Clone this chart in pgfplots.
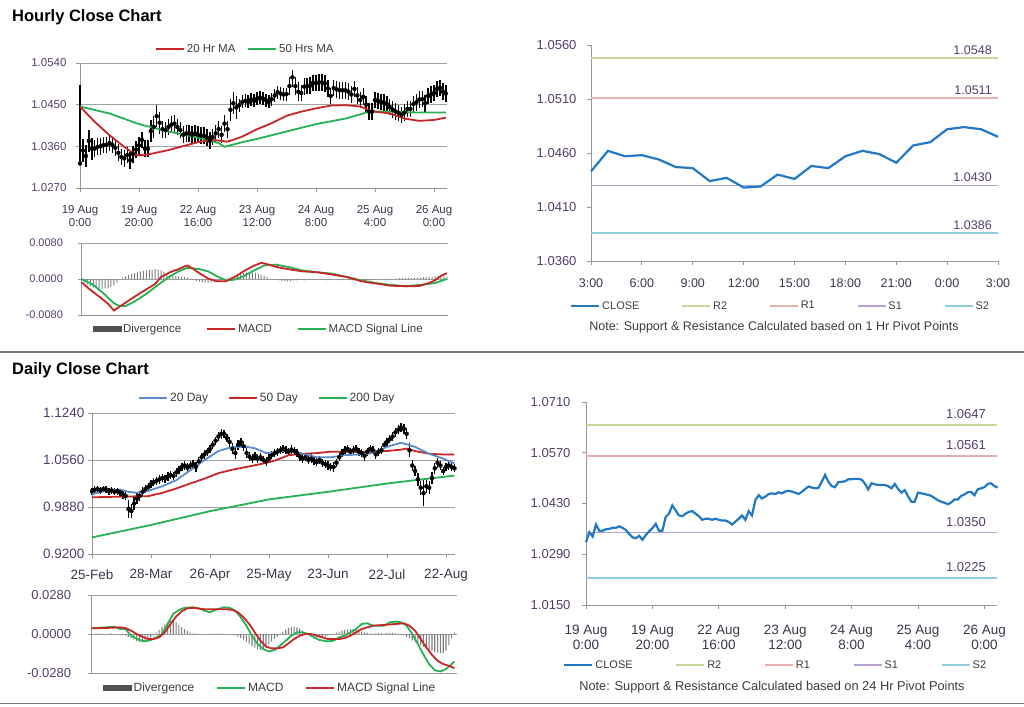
\documentclass[border=0pt]{standalone}
\usepackage{fontspec}
\setmainfont{Liberation Sans}
\usepackage{pgfplots}
\usepackage{pgfplotstable}
\pgfplotsset{compat=1.18}
\definecolor{maRed}{RGB}{200,38,38}
\definecolor{maGreen}{RGB}{38,178,82}
\definecolor{maBlue}{RGB}{90,140,205}
\definecolor{closeBlue}{RGB}{35,120,195}
\definecolor{lvRtwo}{RGB}{195,215,150}
\definecolor{lvRone}{RGB}{232,175,175}
\definecolor{lvSone}{RGB}{180,160,210}
\definecolor{lvStwo}{RGB}{140,205,225}
\definecolor{axc}{RGB}{150,150,150}
\definecolor{gridc}{RGB}{160,160,160}
\definecolor{ytc}{RGB}{85,60,110}
\definecolor{xtc}{RGB}{55,55,75}
\definecolor{legc}{RGB}{60,60,60}
\definecolor{divc}{RGB}{125,125,125}
\definecolor{divd}{RGB}{80,80,80}
\definecolor{sepc}{RGB}{120,120,120}
\newcommand{\fs}[2]{\fontsize{#1}{#2}\selectfont}

\pgfplotsset{
  base/.style={scale only axis, axis lines=left, axis line style={-, draw=axc, line width=0.9pt},
    tick style={draw=axc, line width=0.9pt}, tick align=outside, major tick length=4pt,
    clip=false, legend cell align=left, scaled y ticks=false, scaled x ticks=false,
    yticklabel style={text=ytc}, xticklabel style={text=xtc}},
  gridy/.style={ymajorgrids, grid style={draw=gridc, line width=0.9pt}},
  legline/.style={legend image code/.code={\draw[##1] (0pt,0pt) -- (28pt,0pt);}},
  legbar/.style={legend image code/.code={\fill[##1] (0pt,-2.6pt) rectangle (28pt,2.6pt);}},
  legbase/.style={legend style={draw=none, fill=none, inner sep=0pt, legend columns=-1, anchor=west, text=legc,
    /tikz/every odd column/.append style={column sep=0pt},
    /tikz/every even column/.append style={column sep=#1}}},
}

% hourly close (h), bar range above (ep) and below (em) the close
\pgfplotstableread{
h c ep em
0 1.0323 0.0169 0.0003
1 1.0351 0.0024 0.0024
2 1.0339 0.0024 0.0024
3 1.0372 0.0024 0.0024
4 1.0355 0.0024 0.0024
5 1.0355 0.0018 0.0018
6 1.0359 0.0018 0.0018
7 1.0360 0.0018 0.0018
8 1.0363 0.0018 0.0018
9 1.0363 0.0018 0.0018
10 1.0367 0.0018 0.0018
11 1.0363 0.0018 0.0018
12 1.0357 0.0018 0.0018
13 1.0346 0.0018 0.0018
14 1.0337 0.0018 0.0018
15 1.0334 0.0018 0.0018
16 1.0341 0.0018 0.0018
17 1.0330 0.0018 0.0018
18 1.0343 0.0018 0.0018
19 1.0353 0.0018 0.0018
20 1.0362 0.0018 0.0018
21 1.0374 0.0018 0.0018
22 1.0355 0.0018 0.0018
23 1.0355 0.0018 0.0018
24 1.0393 0.0024 0.0024
25 1.0402 0.0024 0.0024
26 1.0425 0.0024 0.0024
27 1.0411 0.0024 0.0024
28 1.0397 0.0018 0.0018
29 1.0395 0.0018 0.0018
30 1.0402 0.0018 0.0018
31 1.0407 0.0018 0.0018
32 1.0409 0.0018 0.0018
33 1.0402 0.0018 0.0018
34 1.0395 0.0018 0.0018
35 1.0385 0.0018 0.0018
36 1.0388 0.0018 0.0018
37 1.0388 0.0018 0.0018
38 1.0385 0.0018 0.0018
39 1.0388 0.0018 0.0018
40 1.0385 0.0018 0.0018
41 1.0383 0.0018 0.0018
42 1.0383 0.0018 0.0018
43 1.0379 0.0018 0.0018
44 1.0372 0.0018 0.0018
45 1.0380 0.0018 0.0018
46 1.0388 0.0018 0.0018
47 1.0397 0.0018 0.0018
48 1.0385 0.0018 0.0018
49 1.0409 0.0018 0.0018
50 1.0397 0.0018 0.0018
51 1.0439 0.0024 0.0024
52 1.0453 0.0024 0.0024
53 1.0444 0.0024 0.0024
54 1.0449 0.0014 0.0014
55 1.0456 0.0014 0.0014
56 1.0458 0.0014 0.0014
57 1.0456 0.0014 0.0014
58 1.0461 0.0014 0.0014
59 1.0458 0.0014 0.0014
60 1.0463 0.0014 0.0014
61 1.0465 0.0014 0.0014
62 1.0463 0.0014 0.0014
63 1.0460 0.0014 0.0014
64 1.0456 0.0014 0.0014
65 1.0462 0.0014 0.0014
66 1.0470 0.0014 0.0014
67 1.0477 0.0014 0.0014
68 1.0474 0.0014 0.0014
69 1.0472 0.0014 0.0014
70 1.0473 0.0014 0.0014
71 1.0490 0.0020 0.0020
72 1.0509 0.0016 0.0020
73 1.0490 0.0020 0.0020
74 1.0478 0.0020 0.0020
75 1.0475 0.0018 0.0018
76 1.0489 0.0018 0.0018
77 1.0490 0.0018 0.0018
78 1.0491 0.0018 0.0018
79 1.0497 0.0018 0.0018
80 1.0497 0.0018 0.0018
81 1.0498 0.0018 0.0018
82 1.0498 0.0018 0.0018
83 1.0496 0.0018 0.0018
84 1.0485 0.0018 0.0018
85 1.0469 0.0018 0.0018
86 1.0486 0.0018 0.0018
87 1.0483 0.0018 0.0018
88 1.0481 0.0018 0.0018
89 1.0481 0.0018 0.0018
90 1.0481 0.0018 0.0018
91 1.0478 0.0018 0.0018
92 1.0472 0.0018 0.0018
93 1.0484 0.0018 0.0018
94 1.0470 0.0018 0.0018
95 1.0460 0.0018 0.0018
96 1.0467 0.0018 0.0018
97 1.0450 0.0018 0.0018
98 1.0435 0.0018 0.0018
99 1.0435 0.0018 0.0018
100 1.0460 0.0018 0.0018
101 1.0458 0.0018 0.0018
102 1.0456 0.0018 0.0018
103 1.0454 0.0018 0.0018
104 1.0451 0.0018 0.0018
105 1.0445 0.0018 0.0018
106 1.0439 0.0018 0.0018
107 1.0435 0.0018 0.0018
108 1.0432 0.0018 0.0018
109 1.0428 0.0018 0.0018
110 1.0433 0.0018 0.0018
111 1.0441 0.0018 0.0018
112 1.0441 0.0018 0.0018
113 1.0451 0.0018 0.0018
114 1.0455 0.0018 0.0018
115 1.0461 0.0018 0.0018
116 1.0462 0.0018 0.0018
117 1.0453 0.0018 0.0018
118 1.0469 0.0018 0.0018
119 1.0472 0.0018 0.0018
120 1.0475 0.0018 0.0018
121 1.0484 0.0018 0.0018
122 1.0486 0.0018 0.0018
123 1.0478 0.0018 0.0018
124 1.0474 0.0018 0.0018
}\hourly

\pgfplotstableread{
h v
0 0
1 -0.0008
2 -0.0012
3 -0.0016
4 -0.0019
5 -0.0021
6 -0.0022
7 -0.0022
8 -0.0021
9 -0.0020
10 -0.0018
11 -0.0014
12 -0.0008
13 -0.0002
14 0.0003
15 0.0006
16 0.0009
17 0.0011
18 0.0013
19 0.0015
20 0.0017
21 0.0018
22 0.0019
23 0.0020
24 0.0021
25 0.0022
26 0.0021
27 0.0019
28 0.0016
29 0.0012
30 0.0009
31 0.0007
32 0.0006
33 0.0006
34 0.0005
35 0.0004
36 0.0003
37 0.0001
38 -0.0002
39 -0.0004
40 -0.0006
41 -0.0007
42 -0.0008
43 -0.0008
44 -0.0008
45 -0.0007
46 -0.0006
47 -0.0004
48 -0.0002
49 0.0001
50 0.0003
51 0.0005
52 0.0007
53 0.0009
54 0.0011
55 0.0013
56 0.0014
57 0.0015
58 0.0015
59 0.0014
60 0.0012
61 0.0010
62 0.0007
63 0.0004
64 0.0001
65 -0.0001
66 -0.0002
67 -0.0003
68 -0.0004
69 -0.0005
70 -0.0005
71 -0.0004
72 -0.0003
73 -0.0003
74 -0.0002
75 -0.0002
76 -0.0003
77 -0.0002
78 -0.0001
79 -0.0002
80 -0.0001
81 -0.0001
82 -0.0002
83 -0.0003
84 -0.0002
85 -0.0002
86 -0.0001
87 -0.0002
88 -0.0003
89 -0.0002
90 -0.0002
91 -0.0003
92 -0.0003
93 -0.0002
94 -0.0003
95 -0.0003
96 -0.0002
97 -0.0002
98 -0.0003
99 -0.0002
100 -0.0001
101 -0.0001
102 0.0001
103 -0.0001
104 0.0001
105 0.0001
106 -0.0001
107 0.0001
108 0.0002
109 0.0002
110 0.0002
111 0.0003
112 0.0002
113 0.0003
114 0.0003
115 0.0003
116 0.0004
117 0.0004
118 0.0005
119 0.0005
120 0.0006
121 0.0007
122 0.0007
123 0.0006
124 0.0005
}\hdiv

\pgfplotstableread{
d c e
0 1.011 0.005
1 1.013 0.005
2 1.014 0.005
3 1.012 0.005
4 1.014 0.005
5 1.013 0.005
6 1.011 0.005
7 1.012 0.005
8 1.010 0.005
9 1.011 0.005
10 1.009 0.005
11 1.006 0.006
12 1.004 0.006
13 0.985 0.013
14 0.982 0.010
15 0.993 0.009
16 1.000 0.008
17 1.004 0.007
18 1.010 0.007
19 1.014 0.006
20 1.017 0.006
21 1.021 0.006
22 1.024 0.006
23 1.026 0.006
24 1.028 0.006
25 1.030 0.006
26 1.029 0.006
27 1.032 0.006
28 1.034 0.006
29 1.033 0.006
30 1.038 0.006
31 1.042 0.006
32 1.046 0.006
33 1.048 0.006
34 1.045 0.006
35 1.048 0.006
36 1.050 0.006
37 1.046 0.007
38 1.054 0.006
39 1.060 0.006
40 1.064 0.006
41 1.068 0.006
42 1.072 0.006
43 1.078 0.006
44 1.084 0.006
45 1.090 0.007
46 1.094 0.007
47 1.094 0.006
48 1.088 0.006
49 1.082 0.007
50 1.072 0.008
51 1.066 0.008
52 1.078 0.007
53 1.082 0.006
54 1.076 0.007
55 1.066 0.007
56 1.061 0.006
57 1.058 0.006
58 1.062 0.006
59 1.058 0.006
60 1.060 0.006
61 1.056 0.006
62 1.054 0.006
63 1.058 0.006
64 1.063 0.006
65 1.066 0.006
66 1.068 0.006
67 1.070 0.006
68 1.072 0.006
69 1.070 0.006
70 1.068 0.006
71 1.071 0.006
72 1.069 0.006
73 1.066 0.006
74 1.061 0.006
75 1.058 0.006
76 1.060 0.006
77 1.056 0.006
78 1.058 0.006
79 1.055 0.006
80 1.053 0.006
81 1.056 0.006
82 1.052 0.006
83 1.050 0.006
84 1.048 0.006
85 1.046 0.006
86 1.046 0.007
87 1.052 0.006
88 1.060 0.006
89 1.066 0.006
90 1.070 0.006
91 1.072 0.006
92 1.068 0.006
93 1.070 0.006
94 1.072 0.006
95 1.068 0.006
96 1.066 0.006
97 1.062 0.007
98 1.068 0.006
99 1.072 0.006
100 1.070 0.006
101 1.064 0.007
102 1.068 0.006
103 1.070 0.006
104 1.078 0.006
105 1.082 0.006
106 1.086 0.006
107 1.090 0.006
108 1.096 0.007
109 1.100 0.007
110 1.103 0.007
111 1.101 0.007
112 1.094 0.008
113 1.070 0.010
114 1.048 0.008
115 1.040 0.007
116 1.028 0.009
117 1.016 0.010
118 1.008 0.019
119 1.018 0.010
120 1.016 0.009
121 1.030 0.008
122 1.044 0.008
123 1.052 0.007
124 1.048 0.007
125 1.040 0.006
126 1.046 0.006
127 1.048 0.006
128 1.046 0.006
129 1.044 0.006
}\daily

\pgfplotstableread{
d v
0 0.0003
1 0.0002
2 0.0004
3 0.0003
4 0.0002
5 -0.0002
6 0.0003
7 0.0004
8 -0.0003
9 -0.0005
10 -0.0008
11 -0.0010
12 -0.0012
13 -0.0020
14 -0.0030
15 -0.0040
16 -0.0050
17 -0.0055
18 -0.0058
19 -0.0052
20 -0.0040
21 -0.0025
22 -0.0010
23 0.0010
24 0.0030
25 0.0050
26 0.0070
27 0.0085
28 0.0095
29 0.0096
30 0.0085
31 0.0068
32 0.0050
33 0.0035
34 0.0022
35 0.0012
36 0.0005
37 0.0003
38 0.0002
39 -0.0002
40 -0.0004
41 -0.0003
42 0.0002
43 0.0003
44 -0.0002
45 0.0003
46 0.0004
47 0.0003
48 -0.0002
49 -0.0004
50 -0.0006
51 -0.0010
52 -0.0018
53 -0.0028
54 -0.0040
55 -0.0055
56 -0.0070
57 -0.0085
58 -0.0098
59 -0.0108
60 -0.0115
61 -0.0110
62 -0.0095
63 -0.0075
64 -0.0055
65 -0.0035
66 -0.0018
67 0.0005
68 0.0018
69 0.0030
70 0.0042
71 0.0050
72 0.0053
73 0.0048
74 0.0038
75 0.0025
76 0.0010
77 -0.0005
78 -0.0012
79 -0.0018
80 -0.0022
81 -0.0024
82 -0.0022
83 -0.0018
84 -0.0012
85 -0.0006
86 0.0003
87 0.0010
88 0.0018
89 0.0025
90 0.0030
91 0.0034
92 0.0036
93 0.0034
94 0.0030
95 0.0024
96 0.0018
97 0.0012
98 0.0008
99 0.0004
100 0.0003
101 0.0005
102 0.0006
103 0.0004
104 0.0003
105 0.0006
106 0.0008
107 0.0006
108 0.0004
109 0.0002
110 -0.0004
111 -0.0010
112 -0.0020
113 -0.0032
114 -0.0045
115 -0.0058
116 -0.0070
117 -0.0082
118 -0.0093
119 -0.0103
120 -0.0112
121 -0.0120
122 -0.0128
123 -0.0134
124 -0.0138
125 -0.0136
126 -0.0120
127 -0.0080
128 -0.0030
129 0.0010
}\ddiv

\begin{document}
\begin{tikzpicture}
\path[use as bounding box] (0pt,0pt) rectangle (1024pt,-706pt);
\node[anchor=base west, font=\fs{16.5}{18}\bfseries, inner sep=0pt] at (12pt,-21.5pt) {Hourly Close Chart};
\node[anchor=base west, font=\fs{16.5}{18}\bfseries, inner sep=0pt] at (12pt,-374pt) {Daily Close Chart};
\draw[sepc, line width=1.3pt] (0pt,-352pt) -- (1024pt,-352pt);
\draw[sepc, line width=1.3pt] (0pt,-703.5pt) -- (1024pt,-703.5pt);
\node[font=\fs{12.5}{14}, text=legc] at (774pt,-327pt) {Note: Support \& Resistance Calculated based on 1 Hr Pivot Points};
\node[font=\fs{12.8}{14}, text=legc] at (772pt,-687pt) {Note: Support \& Resistance Calculated based on 24 Hr Pivot Points};

% ---------- Panel 1: hourly price ----------
\begin{axis}[base, gridy, at={(80pt,-188pt)}, anchor=south west, width=367pt, height=125pt,
  xmin=0, xmax=124.4, ymin=1.027, ymax=1.054,
  ytick={1.027,1.036,1.045,1.054}, yticklabels={1.0270,1.0360,1.0450,1.0540},
  xtick={0,20,40,60,80,100,120},
  xticklabels={{19 Aug\\0:00},{19 Aug\\20:00},{22 Aug\\16:00},{23 Aug\\12:00},{24 Aug\\8:00},{25 Aug\\4:00},{26 Aug\\0:00}},
  xticklabel style={align=center, font=\fs{11.5}{13}, yshift=-10pt},
  yticklabel style={font=\fs{11.5}{13}, xshift=-6pt},
  legbase=10pt, legend style={at={(0.204,1.112)}, font=\fs{11.5}{13}}]
\addlegendimage{legline, maRed, line width=1.8pt}\addlegendentry{20 Hr MA}
\addlegendimage{legline, maGreen, line width=1.8pt}\addlegendentry{50 Hrs MA}
\addplot[only marks, mark=none, forget plot, error bars/.cd, y dir=both, y explicit, error mark=none,
  error bar style={black, line width=1.4pt}] table[x=h, y=c, y error plus=ep, y error minus=em] {\hourly};
\addplot[maGreen, line width=1.8pt, forget plot] table {
0 1.0446
10 1.0431
20 1.0408
30 1.0392
40 1.0379
47 1.0367
49 1.0359
52 1.0364
55 1.0369
60 1.0376
70 1.0392
80 1.0408
90 1.0420
95 1.0429
98 1.0435
105 1.0435
115 1.0433
124 1.0433
};
\addplot[maRed, line width=1.8pt, forget plot] table {
0 1.0446
5 1.0413
10 1.0384
15 1.0359
19 1.0341
22 1.0341
25 1.0345
30 1.0352
40 1.0369
45 1.0374
50 1.0370
55 1.0381
60 1.0397
65 1.0410
70 1.0426
75 1.0435
80 1.0442
85 1.0448
90 1.0449
95 1.0446
98 1.0438
100 1.0435
105 1.0431
110 1.0420
115 1.0415
120 1.0417
124 1.0422
};
\end{axis}

% ---------- Panel 1b: hourly MACD ----------
\begin{axis}[base, gridy, at={(81.5pt,-315pt)}, anchor=south west, width=366.5pt, height=72pt,
  xmin=0, xmax=124.4, ymin=-0.008, ymax=0.008,
  ytick={-0.008,0,0.008}, yticklabels={-0.0080,0.0000,0.0080}, xtick=\empty,
  yticklabel style={font=\fs{11}{13}, xshift=-11pt},
  legbase=23pt, legend style={at={(0.03,-0.194)}, font=\fs{11.5}{13}}]
\addlegendimage{legbar, divd}\addlegendentry{Divergence}
\addlegendimage{legline, maRed, line width=1.8pt}\addlegendentry{MACD}
\addlegendimage{legline, maGreen, line width=1.8pt}\addlegendentry{MACD Signal Line}
\addplot[ybar, bar width=1pt, fill=divc, draw=none, forget plot] table[x=h, y=v] {\hdiv};
\addplot[maGreen, line width=1.8pt, forget plot] table {
0 0
4 -0.0013
8 -0.0035
11 -0.0054
13 -0.0060
15 -0.0060
18 -0.0050
22 -0.0033
26 -0.0013
30 0.0006
33 0.0017
36 0.0025
40 0.0022
43 0.0017
46 0.0006
49 -0.0003
52 -0.00015
55 0.0006
58 0.0017
62 0.0030
66 0.0032
70 0.0027
75 0.0019
80 0.0015
85 0.0012
90 0.00045
95 -0.0003
100 -0.0009
105 -0.0013
110 -0.0016
115 -0.0013
120 -0.0009
124 0
};
\addplot[maRed, line width=1.8pt, forget plot] table {
0 -0.00074
3 -0.0024
6 -0.0039
9 -0.0055
11 -0.0070
13 -0.0061
16 -0.0048
20 -0.0031
25 -0.0011
27 0.00045
30 0.0015
33 0.0022
35 0.0028
36 0.0030
38 0.0022
40 0.0013
43 0.0001
46 -0.0005
49 -0.0005
52 0.00045
55 0.0017
58 0.0028
61 0.0036
63 0.0033
66 0.0027
70 0.0022
75 0.0017
80 0.0015
85 0.0010
90 0.00045
95 -0.0005
100 -0.0010
105 -0.0015
110 -0.0016
113 -0.0016
115 -0.0015
118 -0.0009
120 -0.0003
122 0.0007
124 0.0013
};
\end{axis}

% ---------- Panel 2: last 24 hours ----------
\begin{axis}[base, at={(591pt,-261pt)}, anchor=south west, width=407pt, height=216pt,
  xmin=0, xmax=24, ymin=1.036, ymax=1.056,
  ytick={1.036,1.041,1.046,1.051,1.056}, yticklabels={1.0360,1.0410,1.0460,1.0510,1.0560},
  xtick={0,3,6,9,12,15,18,21,24}, xticklabels={3:00,6:00,9:00,12:00,15:00,18:00,21:00,0:00,3:00},
  xticklabel style={font=\fs{12.5}{14}, yshift=-10pt}, yticklabel style={font=\fs{13}{14}, xshift=-7pt},
  legbase=40pt, legend style={at={(-0.052,-0.208)}, font=\fs{11}{13}}]
\addlegendimage{legline, closeBlue, line width=2.2pt}\addlegendentry{CLOSE}
\addlegendimage{legline, lvRtwo, line width=1.6pt}\addlegendentry{R2}
\addlegendimage{legline, lvRone, line width=1.6pt}\addlegendentry{R1}
\addlegendimage{legline, lvSone, line width=1.6pt}\addlegendentry{S1}
\addlegendimage{legline, lvStwo, line width=1.6pt}\addlegendentry{S2}
\addplot[lvRtwo, line width=1.6pt, forget plot] coordinates {(0,1.0548) (24,1.0548)};
\addplot[lvRone, line width=1.6pt, forget plot] coordinates {(0,1.0511) (24,1.0511)};
\addplot[lvSone, line width=1.6pt, forget plot] coordinates {(0,1.0430) (24,1.0430)};
\addplot[lvStwo, line width=1.6pt, forget plot] coordinates {(0,1.0386) (24,1.0386)};
\addplot[closeBlue, line width=2.2pt, forget plot] table {
0 1.0443
1 1.0462
2 1.0457
3 1.0458
4 1.0454
5 1.0447
6 1.0446
7 1.0434
8 1.0437
9 1.0428
10 1.0429
11 1.0440
12 1.0436
13 1.0448
14 1.0446
15 1.0457
16 1.0462
17 1.0459
18 1.0451
19 1.0467
20 1.0470
21 1.0482
22 1.0484
23 1.0482
24 1.0475
};
\node[anchor=south east, text=ytc, font=\fs{12.5}{14}, inner sep=1pt, yshift=2.5pt] at (axis cs:23.7,1.0548) {1.0548};
\node[anchor=south east, text=ytc, font=\fs{12.5}{14}, inner sep=1pt, yshift=2.5pt] at (axis cs:23.7,1.0511) {1.0511};
\node[anchor=south east, text=ytc, font=\fs{12.5}{14}, inner sep=1pt, yshift=2.5pt] at (axis cs:23.7,1.0430) {1.0430};
\node[anchor=south east, text=ytc, font=\fs{12.5}{14}, inner sep=1pt, yshift=2.5pt] at (axis cs:23.7,1.0386) {1.0386};
\end{axis}

% ---------- Panel 4: daily price ----------
\begin{axis}[base, gridy, at={(92pt,-554pt)}, anchor=south west, width=363pt, height=141pt,
  xmin=0, xmax=129.2, ymin=0.92, ymax=1.124,
  ytick={0.92,0.988,1.056,1.124}, yticklabels={0.9200,0.9880,1.0560,1.1240},
  xtick={0,21,42,63,84,105,126}, xticklabels={25-Feb,28-Mar,26-Apr,25-May,23-Jun,22-Jul,22-Aug},
  xticklabel style={font=\fs{13.5}{15}, yshift=-8pt}, yticklabel style={font=\fs{13.5}{15}},
  legbase=18pt, legend style={at={(0.127,1.106)}, font=\fs{12}{14}}]
\addlegendimage{legline, maBlue, line width=1.8pt}\addlegendentry{20 Day}
\addlegendimage{legline, maRed, line width=1.8pt}\addlegendentry{50 Day}
\addlegendimage{legline, maGreen, line width=1.8pt}\addlegendentry{200 Day}
\addplot[only marks, mark=none, forget plot, error bars/.cd, y dir=both, y explicit, error mark=none,
  error bar style={black, line width=1.3pt}] table[x=d, y=c, y error=e] {\daily};
\addplot[maGreen, line width=1.8pt, forget plot] table {
0 0.944
21 0.962
42 0.982
63 0.999
84 1.010
105 1.022
129 1.0335
};
\addplot[maRed, line width=1.8pt, forget plot] table {
0 1.002
10 1.003
20 1.0037
25 1.0085
30 1.0148
35 1.022
40 1.029
45 1.037
50 1.042
55 1.046
60 1.050
65 1.055
70 1.063
75 1.065
80 1.066
85 1.068
90 1.068
100 1.068
105 1.069
110 1.071
112 1.0725
115 1.069
120 1.065
125 1.064
129 1.064
};
\addplot[maBlue, line width=1.8pt, forget plot] table {
0 1.0066
5 1.0114
10 1.0133
13 1.010
16 1.0085
20 1.0114
25 1.018
30 1.0268
35 1.0412
40 1.0557
45 1.069
50 1.075
55 1.075
58 1.073
62 1.066
65 1.067
70 1.070
75 1.065
80 1.060
85 1.060
90 1.063
95 1.064
100 1.066
105 1.075
110 1.081
115 1.075
120 1.065
125 1.058
129 1.051
};
\end{axis}

% ---------- Panel 4b: daily MACD ----------
\begin{axis}[base, gridy, at={(91.7pt,-673pt)}, anchor=south west, width=365pt, height=78pt,
  xmin=0, xmax=129.8, ymin=-0.028, ymax=0.028,
  ytick={-0.028,0,0.028}, yticklabels={-0.0280,0.0000,0.0280}, xtick=\empty,
  yticklabel style={font=\fs{13}{14}, xshift=-13pt},
  legbase=20pt, legend style={at={(0.031,-0.192)}, font=\fs{12}{14}}]
\addlegendimage{legbar, divd}\addlegendentry{Divergence}
\addlegendimage{legline, maGreen, line width=1.8pt}\addlegendentry{MACD}
\addlegendimage{legline, maRed, line width=1.8pt}\addlegendentry{MACD Signal Line}
\addplot[ybar, bar width=1.1pt, fill=divc, draw=none, forget plot] table[x=d, y=v] {\ddiv};
\addplot[maGreen, line width=1.8pt, forget plot] table {
0 0.0041
5 0.0048
8 0.0053
10 0.0036
12 0.0036
14 -0.0012
17 -0.0043
19 -0.0053
21 -0.0043
23 -0.0024
25 0
27 0.0072
29 0.0144
31 0.0173
33 0.0188
36 0.0192
38 0.0185
40 0.0168
42 0.0156
44 0.0173
47 0.0192
49 0.0188
51 0.0168
53 0.0120
55 0.0060
57 -0.0012
59 -0.0072
61 -0.0108
63 -0.0125
65 -0.0115
67 -0.0084
69 -0.0048
71 -0.0012
73 0.0012
75 0.0012
77 0
79 -0.0024
81 -0.0043
84 -0.0053
86 -0.0048
88 -0.0024
90 -0.0012
92 0.0012
94 0.0036
96 0.0072
98 0.0077
100 0.0060
104 0.0060
106 0.0084
108 0.0089
110 0.0084
112 0.0060
114 0
116 -0.0072
118 -0.0149
120 -0.0216
122 -0.0260
124 -0.0269
126 -0.0252
128 -0.0216
129 -0.0197
};
\addplot[maRed, line width=1.8pt, forget plot] table {
0 0.0041
5 0.0043
10 0.0048
12 0.0043
14 0.0024
16 0
18 -0.0019
20 -0.0036
22 -0.0036
24 -0.0024
26 0.0012
28 0.0072
30 0.0125
32 0.0163
34 0.0185
36 0.0188
40 0.0178
44 0.0178
48 0.0178
50 0.0173
52 0.0156
54 0.0120
56 0.0072
58 0.0012
60 -0.0048
62 -0.0091
64 -0.0103
66 -0.0103
68 -0.0096
70 -0.0067
72 -0.0036
74 -0.0012
76 0
78 0
80 -0.0012
82 -0.0024
84 -0.0036
88 -0.0036
90 -0.0029
92 -0.0012
94 0.0012
96 0.0036
98 0.0048
100 0.0060
104 0.0065
108 0.0072
111 0.0077
113 0.0060
115 0.0024
117 -0.0036
119 -0.0096
121 -0.0149
123 -0.0192
125 -0.0216
127 -0.0228
129 -0.0245
};
\end{axis}

% ---------- Panel 6: hourly close with 24h pivots ----------
\begin{axis}[base, at={(586pt,-605pt)}, anchor=south west, width=411pt, height=203pt,
  xmin=0, xmax=123.8, ymin=1.015, ymax=1.071,
  ytick={1.015,1.029,1.043,1.057,1.071}, yticklabels={1.0150,1.0290,1.0430,1.0570,1.0710},
  xtick={0,20,40,60,80,100,120},
  xticklabels={{19 Aug\\0:00},{19 Aug\\20:00},{22 Aug\\16:00},{23 Aug\\12:00},{24 Aug\\8:00},{25 Aug\\4:00},{26 Aug\\0:00}},
  xticklabel style={align=center, font=\fs{13.5}{15}, yshift=-13pt}, yticklabel style={font=\fs{13}{14}, xshift=-8pt},
  legbase=41pt, legend style={at={(-0.056,-0.296)}, font=\fs{11}{13}}]
\addlegendimage{legline, closeBlue, line width=2.2pt}\addlegendentry{CLOSE}
\addlegendimage{legline, lvRtwo, line width=1.6pt}\addlegendentry{R2}
\addlegendimage{legline, lvRone, line width=1.6pt}\addlegendentry{R1}
\addlegendimage{legline, lvSone, line width=1.6pt}\addlegendentry{S1}
\addlegendimage{legline, lvStwo, line width=1.6pt}\addlegendentry{S2}
\addplot[lvRtwo, line width=1.6pt, forget plot] coordinates {(0,1.0647) (123.8,1.0647)};
\addplot[lvRone, line width=1.6pt, forget plot] coordinates {(0,1.0561) (123.8,1.0561)};
\addplot[lvSone, line width=1.6pt, forget plot] coordinates {(0,1.0350) (123.8,1.0350)};
\addplot[lvStwo, line width=1.6pt, forget plot] coordinates {(0,1.0225) (123.8,1.0225)};
\addplot[closeBlue, line width=2.2pt, forget plot] table[x=h, y=c] {\hourly};
\node[anchor=south east, text=ytc, font=\fs{13}{14}, inner sep=1pt, yshift=5pt] at (axis cs:120.8,1.0647) {1.0647};
\node[anchor=south east, text=ytc, font=\fs{13}{14}, inner sep=1pt, yshift=5pt] at (axis cs:120.8,1.0561) {1.0561};
\node[anchor=south east, text=ytc, font=\fs{13}{14}, inner sep=1pt, yshift=5pt] at (axis cs:120.8,1.0350) {1.0350};
\node[anchor=south east, text=ytc, font=\fs{13}{14}, inner sep=1pt, yshift=5pt] at (axis cs:120.8,1.0225) {1.0225};
\end{axis}
\end{tikzpicture}
\end{document}
